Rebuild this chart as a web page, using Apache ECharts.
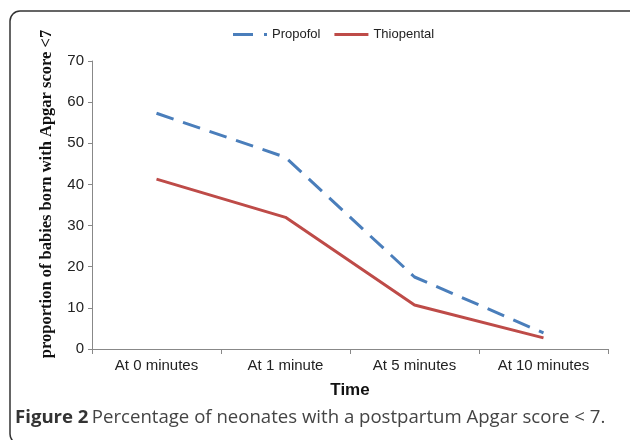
<!DOCTYPE html>
<html><head><meta charset="utf-8">
<script src="https://cdn.jsdelivr.net/npm/echarts@6/dist/echarts.min.js"></script>
<style>html,body{margin:0;padding:0;background:#fff}#c{width:630px;height:440px}</style>
</head><body><div id="c"></div>
<script>
const categories = ['At 0 minutes', 'At 1 minute', 'At 5 minutes', 'At 10 minutes'];
const propofol = [57.3, 46.6, 17.5, 3.9];
const thiopental = [41.3, 32.0, 10.7, 2.7];
const yTicks = [0, 10, 20, 30, 40, 50, 60, 70];
const yTitle = 'proportion of babies born with Apgar score <7';
const xTitle = 'Time';

const chart = echarts.init(document.getElementById('c'));
chart.setOption({
  animation: false,
  backgroundColor: '#fff',
  legend: {
    top: 23, left: 228, itemWidth: 34, itemHeight: 3, itemGap: 14,
    textStyle: { fontFamily: 'Liberation Sans', fontSize: 13, color: '#222' },
    data: [
      { name: 'Propofol', icon: 'path://M0,0 L20,0 L20,3 L0,3 Z M31,0 L34,0 L34,3 L31,3 Z' },
      { name: 'Thiopental', icon: 'rect' }
    ]
  },
  grid: { left: 92, right: 22, top: 61, bottom: 91 },
  xAxis: {
    type: 'category', data: categories, boundaryGap: true,
    name: xTitle, nameLocation: 'middle', nameGap: 33,
    nameTextStyle: { fontFamily: 'Liberation Sans', fontSize: 17, fontWeight: 'bold', color: '#111' },
    axisLine: { lineStyle: { color: '#888' } },
    axisTick: { show: true, length: 5, lineStyle: { color: '#888' } },
    axisLabel: { fontFamily: 'Liberation Sans', fontSize: 15, color: '#222', margin: 9 }
  },
  yAxis: {
    type: 'value', min: 0, max: 70, interval: 10,
    axisLine: { show: true, lineStyle: { color: '#888' } },
    axisTick: { show: true, length: 4, lineStyle: { color: '#888' } },
    splitLine: { show: false },
    axisLabel: { fontFamily: 'Liberation Sans', fontSize: 15, color: '#222', margin: 8,
      formatter: v => yTicks.includes(v) ? String(v) : '' }
  },
  series: [
    { name: 'Propofol', type: 'line', data: propofol, symbol: 'none', color: '#4a7ebb',
      lineStyle: { width: 3, type: [18, 10], color: '#4a7ebb' } },
    { name: 'Thiopental', type: 'line', data: thiopental, symbol: 'none', color: '#be4b48',
      lineStyle: { width: 3, color: '#be4b48' } }
  ],
  graphic: [
    { type: 'rect', shape: { x: 10, y: 11, width: 640, height: 433, r: 10 },
      style: { fill: 'none', stroke: '#333', lineWidth: 1.5 }, silent: true },
    { type: 'text', x: 47, y: 194, rotation: Math.PI / 2,
      style: { text: yTitle, fontFamily: 'Liberation Serif', fontWeight: 'bold', fontSize: 16.5,
        fill: '#111', align: 'center', verticalAlign: 'middle' } },
    { type: 'text', left: 15, top: 408,
      style: { rich: {
          b: { fontFamily: 'Open Sans', fontWeight: 'bold', fontSize: 18.6, fill: '#333' },
          n: { fontFamily: 'Open Sans', fontSize: 18.6, fill: '#444' } },
        text: '{b|Figure 2} {n|Percentage of neonates with a postpartum Apgar score < 7.}' } }
  ]
});
</script></body></html>
